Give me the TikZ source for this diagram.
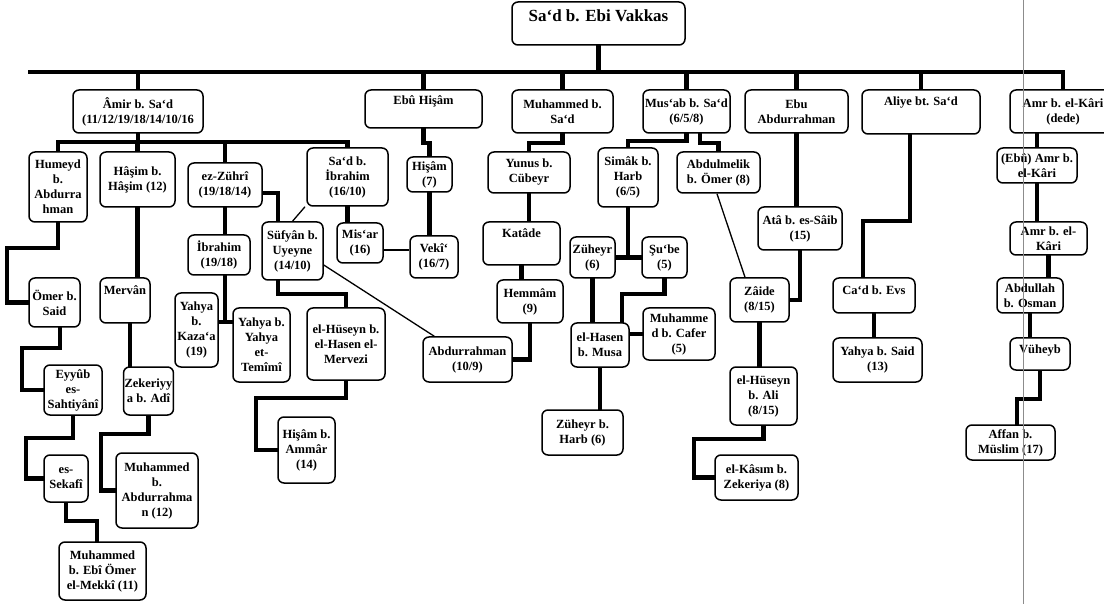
\documentclass[tikz,border=0pt]{standalone}
\usepackage{fontspec}
\setmainfont{Liberation Serif}
\usetikzlibrary{calc,backgrounds}

\tikzset{
  box/.style={draw, fill=white, line width=1.5pt, rounded corners=6pt, align=center,
    inner xsep=1pt, inner ysep=2pt, font=\fontsize{12.5}{15}\selectfont\bfseries},
  toptext/.style 2 args={text height=#1, text depth=#2},
  link/.style={line width=4.2pt, line cap=rect},
  thinlink/.style={line width=1.3pt},
}

\begin{document}
\begin{tikzpicture}[x=1pt, y=-1pt]
	\useasboundingbox (0,0) rectangle (1104,604);
	
	%%%%% ROOT %%%%%
	\node[box, font=\fontsize{17}{20}\selectfont\bfseries, minimum width=173, minimum height=43, toptext={18pt}{21pt}] (sad) at (598.5,23.5) {Sa‘d b. Ebi Vakkas};
	
	%%%%% SONS %%%%%
	\node[box, minimum width=130, minimum height=43] (amir) at (138,111.5) {Âmir b. Sa‘d\\(11/12/19/18/14/10/16};
	\node[box, minimum width=117, minimum height=38, toptext={13pt}{21pt}] (ebuhisam) at (423.5,109) {Ebû Hişâm};
	\node[box, minimum width=101, minimum height=43] (muhammed) at (562.5,111.5) {Muhammed b.\\Sa‘d};
	\node[box, minimum width=87, minimum height=43] (musab) at (686.5,111.5) {Mus‘ab b. Sa‘d\\(6/5/8)};
	\node[box, minimum width=103, minimum height=43] (ebuabd) at (796.5,111.5) {Ebu\\Abdurrahman};
	\node[box, minimum width=118, minimum height=44, toptext={14pt}{26pt}] (aliye) at (921,112) {Aliye bt. Sa‘d};
	\node[box, minimum width=106, minimum height=43] (amrdede) at (1063,111.5) {Amr b. el-Kâri\\(dede)};
	
	%%%%% AMIR %%%%%
	\node[box, minimum width=58, minimum height=70] (humeyd) at (58,187) {Humeyd\\b.\\Abdurra\\hman};
	\node[box, minimum width=75, minimum height=55] (hasim) at (137.5,179.5) {Hâşim b.\\Hâşim (12)};
	\node[box, minimum width=74, minimum height=44] (zuhri) at (225,185) {ez-Zührî\\(19/18/14)};
	\node[box, minimum width=81, minimum height=58] (sadibr) at (347.5,177) {Sa‘d b.\\İbrahim\\(16/10)};
	
	\node[box, minimum width=51, minimum height=49] (omer) at (54.5,302.5) {Ömer b.\\Said};
	\node[box, minimum width=58, minimum height=50] (eyyub) at (73,390) {Eyyûb\\es-\\Sahtiyânî};
	\node[box, minimum width=44, minimum height=47] (sekafi) at (66,478.5) {es-\\Sekafî};
	\node[box, minimum width=87, minimum height=58] (mekki) at (102.5,571) {Muhammed\\b. Ebî Ömer\\el-Mekkî (11)};
	
	\node[box, minimum width=50, minimum height=45, toptext={15pt}{26pt}] (mervan) at (125,300.5) {Mervân};
	\node[box, minimum width=49, minimum height=48] (zekeriyya) at (148.5,391) {Zekeriyy\\a b. Adî};
	\node[box, minimum width=82, minimum height=75] (mabdrah) at (157,490.5) {Muhammed\\b.\\Abdurrahma\\n (12)};
	
	\node[box, minimum width=62, minimum height=40] (ibrahim) at (219,255) {İbrahim\\(19/18)};
	\node[box, minimum width=43, minimum height=74] (yahkaza) at (196.5,330) {Yahya\\b.\\Kaza‘a\\(19)};
	\node[box, minimum width=57, minimum height=74] (yahtem) at (261.5,345) {Yahya b.\\Yahya\\et-\\Temîmî};
	
	\node[box, minimum width=61, minimum height=58] (sufyan) at (292.5,251) {Süfyân b.\\Uyeyne\\(14/10)};
	\node[box, minimum width=78, minimum height=72] (huseynmer) at (346,344) {el-Hüseyn b.\\el-Hasen el-\\Mervezi};
	\node[box, minimum width=57, minimum height=66] (ammar) at (306.5,450) {Hişâm b.\\Ammâr\\(14)};
	\node[box, minimum width=46, minimum height=40] (misar) at (360,243) {Mis‘ar\\(16)};
	
	%%%%% EBU HISAM %%%%%
	\node[box, minimum width=45, minimum height=35] (hisam) at (429.5,174.5) {Hişâm\\(7)};
	\node[box, minimum width=48, minimum height=42] (veki) at (434,257) {Vekî‘\\(16/7)};
	
	%%%%% MUHAMMED %%%%%
	\node[box, minimum width=82, minimum height=41] (yunus) at (529,172.5) {Yunus b.\\Cübeyr};
	\node[box, minimum width=77, minimum height=43, toptext={14pt}{25pt}] (katade) at (521.5,243.5) {Katâde};
	\node[box, minimum width=66, minimum height=43] (hemmam) at (530,301.5) {Hemmâm\\(9)};
	\node[box, minimum width=89, minimum height=45] (abdrah) at (467.5,359.5) {Abdurrahman\\(10/9)};
	
	%%%%% MUS'AB %%%%%
	\node[box, minimum width=60, minimum height=59] (simak) at (628,177.5) {Simâk b.\\Harb\\(6/5)};
	\node[box, minimum width=83, minimum height=41] (abdmelik) at (718.5,172.5) {Abdulmelik\\b. Ömer (8)};
	\node[box, minimum width=45, minimum height=41] (zuheyr) at (592.5,257.5) {Züheyr\\(6)};
	\node[box, minimum width=45, minimum height=41] (subbe) at (664.5,257.5) {Şu‘be\\(5)};
	\node[box, minimum width=58, minimum height=44] (hasen) at (600,345) {el-Hasen\\b. Musa};
	\node[box, minimum width=72, minimum height=52] (mcafer) at (679,334) {Muhamme\\d b. Cafer\\(5)};
	\node[box, minimum width=81, minimum height=45] (zuhharb) at (582.5,432.5) {Züheyr b.\\Harb (6)};
	
	%%%%% EBU ABDURRAHMAN %%%%%
	\node[box, minimum width=84, minimum height=43] (ata) at (800,228.5) {Atâ b. es-Sâib\\(15)};
	\node[box, minimum width=59, minimum height=44] (zaide) at (759.5,300) {Zâide\\(8/15)};
	\node[box, minimum width=67, minimum height=58] (huseynali) at (763.5,396) {el-Hüseyn\\b. Ali\\(8/15)};
	\node[box, minimum width=83, minimum height=45] (kasim) at (756.5,477.5) {el-Kâsım b.\\Zekeriya (8)};
	
	%%%%% ALIYE %%%%%
	\node[box, minimum width=82, minimum height=35, toptext={15pt}{16pt}] (cad) at (874,295.5) {Ca‘d b. Evs};
	\node[box, minimum width=89, minimum height=44] (yahsaid) at (877.5,360) {Yahya b. Said\\(13)};
	
	%%%%% AMR %%%%%
	\node[box, minimum width=80, minimum height=35] (ebuamr) at (1037,165.5) {(Ebû) Amr b.\\el-Kâri};
	\node[box, minimum width=77, minimum height=33] (amr) at (1048.5,238.5) {Amr b. el-\\Kâri};
	\node[box, minimum width=66, minimum height=35] (abdullah) at (1030,295.5) {Abdullah\\b. Osman};
	\node[box, minimum width=60, minimum height=32, toptext={13pt}{15pt}] (vuheyb) at (1040,354) {Vüheyb};
	\node[box, minimum width=89, minimum height=35] (affan) at (1010.5,442.5) {Affan b.\\Müslim (17)};
	
	%%%%% LINES %%%%%
	\begin{scope}[on background layer]
		\coordinate (bar) at (0,72);
		\coordinate (barstart) at (30,72);
		\draw[link] (barstart) -- (amrdede.north |- bar);
		\draw[link] (sad.south) -- (sad.south |- bar);
		\foreach \n in {amir,ebuhisam,muhammed,musab,ebuabd,aliye,amrdede}
			\draw[link] (\n.north) -- (\n.north |- bar);
		
		\coordinate (amirbar) at (0,142);
		\draw[link] (amir.south) -- (amir.south |- amirbar);
		\draw[link] (humeyd.north |- amirbar) -- (sadibr.north |- amirbar);
		\foreach \n in {humeyd,hasim,zuhri,sadibr}
			\draw[link] (\n.north) -- (\n.north |- amirbar);
		
		\draw[link] (humeyd.south) -- ++(0,25) -| ([xshift=-21pt]omer.west) -- (omer.west);
		\draw[link] ([xshift=5.5pt]omer.south) -- ++(0,20) -| ([xshift=-21pt]eyyub.west) -- (eyyub.west);
		\draw[link] (eyyub.south) -- ++(0,22) -| ([xshift=-17pt]sekafi.west) -- (sekafi.west);
		\draw[link] (sekafi.south) -- ++(0,18) -| ([xshift=-5.5pt]mekki.north);
		
		\draw[link] (hasim.south) -- (hasim.south |- mervan.north);
		\draw[link] ([xshift=5pt]mervan.south) -- ([xshift=5pt]mervan.south |- zekeriyya.north);
		\draw[link] (zekeriyya.south) -- ++(0,18) -| ([xshift=-14pt]mabdrah.west) -- (mabdrah.west);
		
		\coordinate (ibrj) at (225,322);
		\draw[link] (zuhri.south) -- (zuhri.south |- ibrahim.north);
		\draw[link] (ibrahim.south -| ibrj) -- (ibrj);
		\draw[link] (yahkaza.east |- ibrj) -- (yahtem.west |- ibrj);
		\draw[link] ([yshift=-8pt]zuhri.east) -| ([xshift=-14.5pt]sufyan.north);
		\draw[thinlink] ([xshift=-42.5pt]sadibr.south) -- (sufyan.north);
		\draw[link] ([xshift=-14.5pt]sufyan.south) -- ++(0,13) -| (huseynmer.north);
		\draw[link] (huseynmer.south) -- ++(0,17) -| ([xshift=-21pt]ammar.west) -- (ammar.west);
		\draw[thinlink] ([yshift=-14pt]sufyan.east) -- ([xshift=12pt]abdrah.north west);
		\draw[link] (sadibr.south) -- (sadibr.south |- misar.north);
		\draw[thinlink] ([yshift=-7pt]misar.east) -- ([yshift=-7pt]misar.east -| veki.west);
		
		\draw[link] (ebuhisam.south) -- ++(0,14) -| (hisam.north);
		\draw[link] (hisam.south) -- (hisam.south |- veki.north);
		
		\draw[link] (muhammed.south) -- ++(0,9) -| (yunus.north);
		\draw[link] (yunus.south) -- (yunus.south |- katade.north);
		\draw[link] (katade.south) -- (katade.south |- hemmam.north);
		\draw[link] (hemmam.south) |- (abdrah.east);
		
		\draw[link] (musab.south) -- ++(0,7) -| (simak.north);
		\draw[link] ([xshift=13.5pt]musab.south) -- ++(0,9) -| (abdmelik.north);
		\draw[link] (simak.south) -- (simak.south |- zuheyr.east);
		\draw[link] (zuheyr.east) -- (subbe.west);
		\draw[link] (zuheyr.south) -- (zuheyr.south |- hasen.north);
		\draw[link] (subbe.south) -- ++(0,15) -| ([xshift=22pt]hasen.north);
		\draw[link] (mcafer.west) -- (mcafer.west -| hasen.east);
		\draw[link] (hasen.south) -- (hasen.south |- zuhharb.north);
		\draw[thinlink] ([xshift=-1.5pt]abdmelik.south) -- ([xshift=-14.5pt]zaide.north);
		
		\draw[link] (ebuabd.south) -- (ebuabd.south |- ata.north);
		\draw[link] (ata.south) |- (zaide.east);
		\draw[link] (zaide.south) -- (zaide.south |- huseynali.north);
		\draw[link] (huseynali.south) -- ++(0,13) -| ([xshift=-20pt]kasim.west) -- (kasim.west);
		
		\draw[link] ([xshift=-11pt]aliye.south) -- ++(0,86) -| ([xshift=-11pt]cad.north);
		\draw[link] (cad.south) -- (cad.south |- yahsaid.north);
		
		\draw[link] (ebuamr.north) -- (ebuamr.north |- amrdede.south);
		\draw[link] (ebuamr.south) -- (ebuamr.south |- amr.north);
		\draw[link] (amr.south) -- (amr.south |- abdullah.north);
		\draw[link] (abdullah.south) -- (abdullah.south |- vuheyb.north);
		\draw[link] (vuheyb.south) -- ++(0,28) -| ([xshift=6.5pt]affan.north);
	\end{scope}
	
	% scan line
	\draw[black!45, line width=0.6pt] (1023,0) -- (1023,604);
\end{tikzpicture}
\end{document}
